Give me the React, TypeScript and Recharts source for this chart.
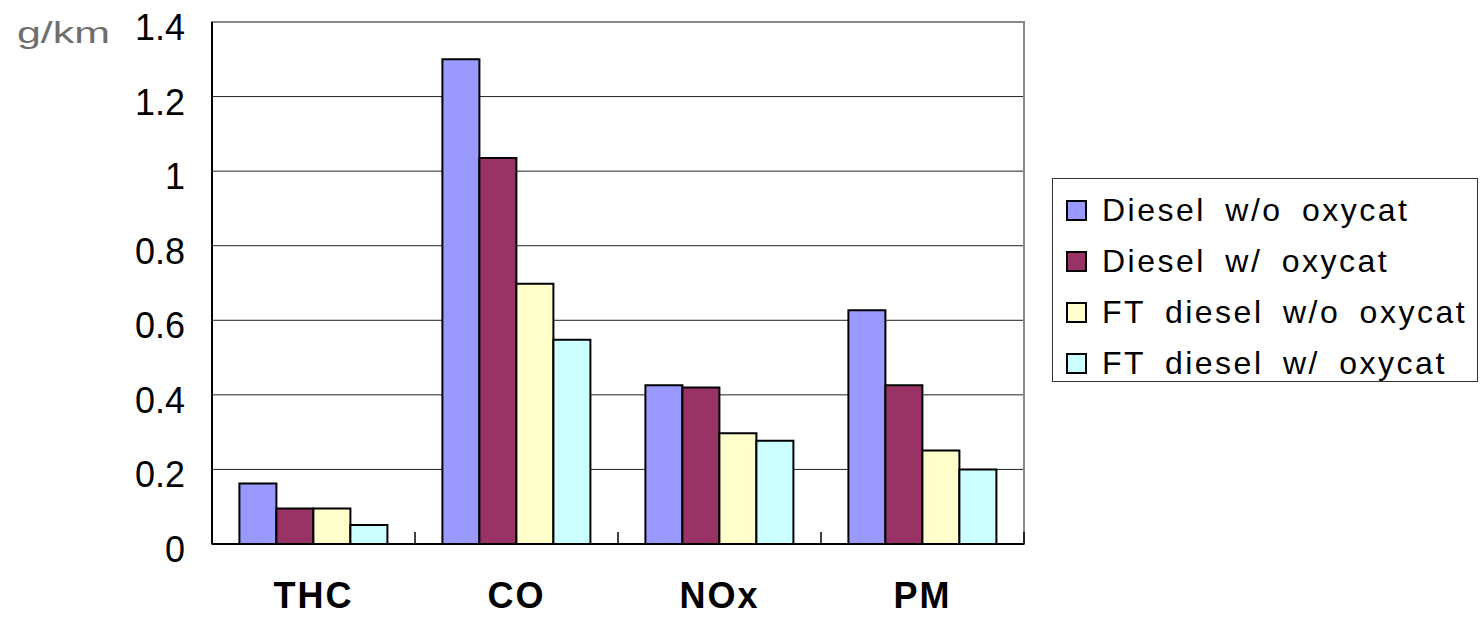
import React from 'react';
import { BarChart, Bar, XAxis, YAxis, CartesianGrid, ReferenceArea } from 'recharts';

const categories = ['THC', 'CO', 'NOx', 'PM'];
const seriesNames = ['Diesel w/o oxycat', 'Diesel w/ oxycat', 'FT diesel w/o oxycat', 'FT diesel w/ oxycat'];
const dieselNoCat = [0.162, 1.3, 0.426, 0.627];
const dieselCat = [0.095, 1.035, 0.42, 0.426];
const ftNoCat = [0.095, 0.698, 0.297, 0.251];
const ftCat = [0.051, 0.548, 0.277, 0.2];
const yTicks = [0, 0.2, 0.4, 0.6, 0.8, 1, 1.2, 1.4];
const unitLabel = 'g/km';

const seriesValues = [dieselNoCat, dieselCat, ftNoCat, ftCat];
const colors = ['#9999FF', '#993366', '#FFFFCC', '#CCFFFF'];
const keys = ['s0', 's1', 's2', 's3'];

const data = categories.map((name, i) => {
  const row: Record<string, any> = { name };
  keys.forEach((k, j) => {
    row[k] = seriesValues[j][i];
  });
  return row;
});

const FONT = '"Liberation Sans", Arial, sans-serif';

const XTick = (props: any) => {
  const { x, y, payload, index, visibleTicksCount } = props;
  const off = payload?.offset ?? 0;
  const isLast = index === visibleTicksCount - 1;
  return (
    <g>
      <line x1={x - off} x2={x - off} y1={y} y2={y - 12} stroke="#000" strokeWidth={1.5} />
      {isLast && <line x1={x + off} x2={x + off} y1={y} y2={y - 12} stroke="#000" strokeWidth={1.5} />}
      <text
        x={x}
        y={y + 64}
        textAnchor="middle"
        fontFamily={FONT}
        fontSize={36}
        fontWeight="bold"
        letterSpacing={2}
        fill="#000"
      >
        {payload.value}
      </text>
    </g>
  );
};

const YTick = (props: any) => {
  const { x, y, payload } = props;
  return (
    <text x={x} y={y + 18} textAnchor="end" fontFamily={FONT} fontSize={36} fill="#000">
      {payload.value}
    </text>
  );
};

const LegendBox = () => (
  <div
    style={{
      position: 'absolute',
      left: 1052,
      top: 178,
      width: 426,
      height: 204,
      boxSizing: 'border-box',
      border: '1.5px solid #333',
      background: '#fff',
      fontFamily: FONT,
    }}
  >
    {seriesNames.map((n, i) => (
      <div
        key={n}
        style={{
          position: 'absolute',
          left: 13,
          top: 8 + i * 51,
          height: 46,
          display: 'flex',
          alignItems: 'center',
          whiteSpace: 'nowrap',
        }}
      >
        <div
          style={{
            width: 21,
            height: 21,
            boxSizing: 'border-box',
            border: '2px solid #000',
            background: colors[i],
            marginRight: 15,
          }}
        />
        <span style={{ fontSize: 32, letterSpacing: 2.5, wordSpacing: 8, color: '#000' }}>{n}</span>
      </div>
    ))}
  </div>
);

export default function App() {
  return (
    <div style={{ position: 'absolute', left: 0, top: 0, width: 1483, height: 620, background: '#fff', fontFamily: FONT }}>
      <BarChart
        width={1483}
        height={620}
        data={data}
        margin={{ top: 22, right: 459, bottom: 0, left: 0 }}
        barCategoryGap="13.5%"
        barGap={0}
      >
        <CartesianGrid vertical={false} stroke="#222" strokeWidth={1} />
        <ReferenceArea y1={0} y2={1.4} stroke="#888" strokeWidth={2} fill="none" fillOpacity={0} ifOverflow="visible" />
        <XAxis
          dataKey="name"
          interval={0}
          height={76}
          tickLine={false}
          tickSize={0}
          tickMargin={0}
          axisLine={{ stroke: '#000', strokeWidth: 2 }}
          tick={<XTick />}
        />
        <YAxis
          width={212}
          domain={[0, 1.4]}
          ticks={yTicks}
          tickLine={false}
          tickSize={0}
          tickMargin={27}
          axisLine={{ stroke: '#000', strokeWidth: 2 }}
          tick={<YTick />}
          interval={0}
        />
        {keys.map((k, i) => (
          <Bar
            key={k}
            dataKey={k}
            name={seriesNames[i]}
            fill={colors[i]}
            stroke="#000"
            strokeWidth={2}
            isAnimationActive={false}
          />
        ))}
      </BarChart>
      <LegendBox />
      <svg style={{ position: 'absolute', left: 0, top: 0 }} width={140} height={60}>
        <text x={17} y={43} fontFamily={FONT} fontSize={30} fill="#6e6e6e" textLength={93} lengthAdjust="spacingAndGlyphs">
          {unitLabel}
        </text>
      </svg>
    </div>
  );
}
